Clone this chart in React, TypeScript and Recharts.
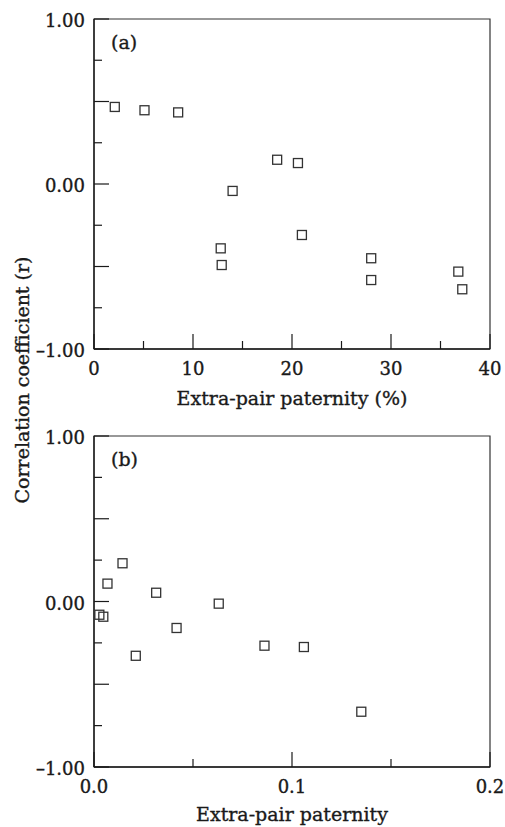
import React from 'react';
import { ScatterChart, Scatter, XAxis, YAxis, ReferenceArea } from 'recharts';

// Panel (a): extra-pair paternity (%) vs correlation coefficient
const eppPercentA = [2.1, 5.1, 8.5, 18.5, 20.6, 14.0, 21.0, 12.8, 12.9, 28.0, 28.0, 36.8, 37.2];
const corrA = [0.467, 0.447, 0.434, 0.147, 0.127, -0.042, -0.309, -0.39, -0.491, -0.45, -0.582, -0.531, -0.638];

// Panel (b): extra-pair paternity (proportion) vs correlation coefficient
const eppPropB = [0.0144, 0.0068, 0.0314, 0.063, 0.0027, 0.0047, 0.0417, 0.0861, 0.106, 0.0211, 0.135];
const corrB = [0.231, 0.108, 0.053, -0.013, -0.08, -0.092, -0.16, -0.267, -0.275, -0.328, -0.666];

const xTicksA = [0, 5, 10, 15, 20, 25, 30, 35, 40];
const xMajorA = [0, 10, 20, 30, 40];
const xTicksB = [0, 0.05, 0.1, 0.15, 0.2];
const xMajorB = [0, 0.1, 0.2];
const yTicks = [-1, -0.75, -0.5, -0.25, 0, 0.25, 0.5, 0.75, 1];
const yMajor = [-1, -0.5, 0, 0.5, 1];
const yLabelled = [-1, 0, 1];

const xTitleA = 'Extra-pair paternity (%)';
const xTitleB = 'Extra-pair paternity';
const yTitle = 'Correlation coefficient (r)';

const dataA = eppPercentA.map((x, i) => ({ x, y: corrA[i] }));
const dataB = eppPropB.map((x, i) => ({ x, y: corrB[i] }));

const FONT = "'DejaVu Serif', 'Liberation Serif', serif";
const INK = '#1a1a1a';
const FS = 19;
const TFS = 18;
const TW = 0.35;

const near = (a: number, list: number[]) => list.some((v) => Math.abs(v - a) < 1e-9);

const fmtY = (v: number) => {
  const s = Math.abs(v).toFixed(2);
  return v < 0 ? '\u2013' + s : s;
};

const makeXTick = (majors: number[], fmt: (v: number) => string) => (props: any) => {
  const { x, y, payload } = props;
  const v = payload.value;
  const major = near(v, majors);
  const len = major ? 15 : 8;
  return (
    <g>
      <line x1={x} x2={x} y1={y} y2={y - len} stroke={INK} strokeWidth={1.2} />
      {major && (
        <text x={x} y={y + 26} textAnchor="middle" fontFamily={FONT} fontSize={TFS} fill={INK} stroke={INK} strokeWidth={TW}>
          {fmt(v)}
        </text>
      )}
    </g>
  );
};

const YTick = (props: any) => {
  const { x, y, payload } = props;
  const v = payload.value;
  const major = near(v, yMajor);
  const len = major ? 15 : 8;
  return (
    <g>
      <line x1={x} x2={x + len} y1={y} y2={y} stroke={INK} strokeWidth={1.2} />
      {near(v, yLabelled) && (
        <text x={x - 9} y={y + 8} textAnchor="end" fontFamily={FONT} fontSize={TFS} fill={INK} stroke={INK} strokeWidth={TW}>
          {fmtY(v)}
        </text>
      )}
    </g>
  );
};

const SquareMarker = (props: any) => {
  const { cx, cy } = props;
  if (cx == null || cy == null) return null;
  return (
    <rect x={cx - 4.5} y={cy - 4.5} width={9} height={9} fill="none" stroke="#333" strokeWidth={1.3} />
  );
};

const XTickA = makeXTick(xMajorA, (v) => String(v));
const XTickB = makeXTick(xMajorB, (v) => v.toFixed(1));

const labelStyle = { fontFamily: FONT, fontSize: FS, fill: INK, stroke: INK, strokeWidth: TW };

export default function App() {
  return (
    <div style={{ position: 'absolute', left: 0, top: 0, width: 505, height: 827, background: '#fff' }}>
      <div style={{ position: 'absolute', left: 0, top: 0 }}>
        <ScatterChart width={505} height={420} margin={{ top: 19, right: 15, bottom: 0, left: 0 }}>
          <XAxis
            type="number"
            dataKey="x"
            domain={[0, 40]}
            ticks={xTicksA}
            interval={0}
            tickSize={0}
            tickMargin={0}
            tick={XTickA}
            tickLine={false}
            axisLine={{ stroke: INK, strokeWidth: 1.3 }}
            height={71}
            allowDataOverflow
            label={{ value: xTitleA, position: 'insideBottom', offset: 15, ...labelStyle }}
          />
          <YAxis
            type="number"
            dataKey="y"
            domain={[-1, 1]}
            ticks={yTicks}
            interval={0}
            tickSize={0}
            tickMargin={0}
            tick={YTick}
            tickLine={false}
            axisLine={{ stroke: INK, strokeWidth: 1.3 }}
            width={94}
            allowDataOverflow
          />
          <ReferenceArea
            x1={0}
            x2={40}
            y1={-1}
            y2={1}
            fill="none"
            fillOpacity={0}
            stroke="#333"
            strokeWidth={1.2}
            ifOverflow="visible"
            label={{ value: '(a)', position: 'insideTopLeft', offset: 17, ...labelStyle }}
          />
          <Scatter data={dataA} shape={SquareMarker} isAnimationActive={false} />
        </ScatterChart>
      </div>
      <div style={{ position: 'absolute', left: 0, top: 420 }}>
        <ScatterChart width={505} height={407} margin={{ top: 16, right: 15, bottom: 0, left: 0 }}>
          <XAxis
            type="number"
            dataKey="x"
            domain={[0, 0.2]}
            ticks={xTicksB}
            interval={0}
            tickSize={0}
            tickMargin={0}
            tick={XTickB}
            tickLine={false}
            axisLine={{ stroke: INK, strokeWidth: 1.3 }}
            height={60}
            allowDataOverflow
            label={{ value: xTitleB, position: 'insideBottom', offset: 6, ...labelStyle }}
          />
          <YAxis
            type="number"
            dataKey="y"
            domain={[-1, 1]}
            ticks={yTicks}
            interval={0}
            tickSize={0}
            tickMargin={0}
            tick={YTick}
            tickLine={false}
            axisLine={{ stroke: INK, strokeWidth: 1.3 }}
            width={94}
            allowDataOverflow
          />
          <ReferenceArea
            x1={0}
            x2={0.2}
            y1={-1}
            y2={1}
            fill="none"
            fillOpacity={0}
            stroke="#333"
            strokeWidth={1.2}
            ifOverflow="visible"
            label={{ value: '(b)', position: 'insideTopLeft', offset: 17, ...labelStyle }}
          />
          <Scatter data={dataB} shape={SquareMarker} isAnimationActive={false} />
        </ScatterChart>
      </div>
      <svg
        width={505}
        height={827}
        style={{ position: 'absolute', left: 0, top: 0, pointerEvents: 'none' }}
      >
        <text
          x={29}
          y={380}
          transform="rotate(-90 29 380)"
          textAnchor="middle"
          fontFamily={FONT}
          fontSize={FS}
          fill={INK}
          stroke={INK}
          strokeWidth={TW}
        >
          {yTitle}
        </text>
      </svg>
    </div>
  );
}
